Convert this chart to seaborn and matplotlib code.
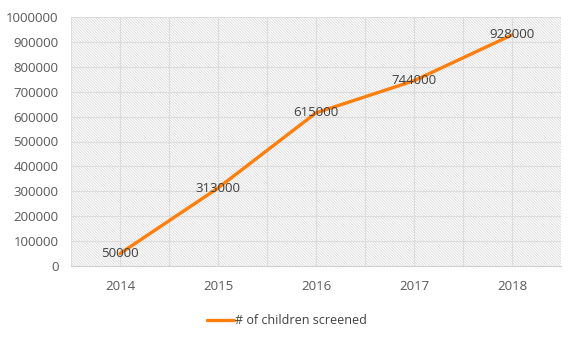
import matplotlib
matplotlib.use("Agg")
import matplotlib.pyplot as plt
import seaborn as sns
import pandas as pd
from matplotlib.patches import Rectangle

years = ["2014", "2015", "2016", "2017", "2018"]
screened = [50000, 313000, 615000, 744000, 928000]
series_name = "# of children screened"

sns.set_theme(style="white")
plt.rcParams["font.family"] = ["Open Sans", "DejaVu Sans"]
plt.rcParams["hatch.linewidth"] = 0.5
plt.rcParams["hatch.color"] = "#d4d4d4"

df = pd.DataFrame({"x": range(len(years)), "y": screened, "s": series_name})

fig = plt.figure(figsize=(5.74, 3.40), dpi=100)
ax = fig.add_axes([71 / 574, 1 - 266 / 340, (561 - 71) / 574, (266 - 17) / 340])

ax.add_patch(Rectangle((0, 0), 1, 1, transform=ax.transAxes, facecolor="white",
                       edgecolor="#d4d4d4", hatch="\\" * 12, linewidth=0, zorder=0))

sns.lineplot(data=df, x="x", y="y", hue="s", palette=["#ff7f0e"], linewidth=2.4,
             ax=ax, zorder=3)

for xi, v in zip(df["x"], screened):
    ax.text(xi, v, f"{v}", ha="center", va="center", fontsize=9.5, color="#404040", zorder=4)

ax.set_xlim(-0.5, len(years) - 0.5)
ax.set_ylim(0, 1000000)
ax.set_yticks(range(0, 1000001, 100000))
ax.set_yticklabels([str(v) for v in range(0, 1000001, 100000)])
ax.set_xticks(range(len(years)))
ax.set_xticklabels(years)
for xv in [i * 0.5 - 0.5 for i in range(2 * len(years) + 1)]:
    ax.axvline(xv, color="#dcdcdc", linewidth=0.8, zorder=1)
for yv in range(100000, 1000001, 100000):
    ax.axhline(yv, color="#dcdcdc", linewidth=0.8, zorder=1)
ax.tick_params(axis="both", length=0, labelsize=9.5, colors="#595959")
ax.tick_params(axis="x", pad=10)
ax.tick_params(axis="y", pad=9)
ax.set_xlabel("")
ax.set_ylabel("")
for side in ["top", "right", "left"]:
    ax.spines[side].set_visible(False)
ax.spines["bottom"].set_color("#d0d0d0")
ax.spines["bottom"].set_linewidth(0.8)

ax.legend_.remove()
handles, labels = ax.get_legend_handles_labels()
fig.legend(handles, labels, loc="center", bbox_to_anchor=(0.5, 1 - 321 / 340),
           frameon=False, fontsize=9, handlelength=2.2, handletextpad=0.1,
           labelcolor="#404040")

fig.savefig("out.png", dpi=100)
